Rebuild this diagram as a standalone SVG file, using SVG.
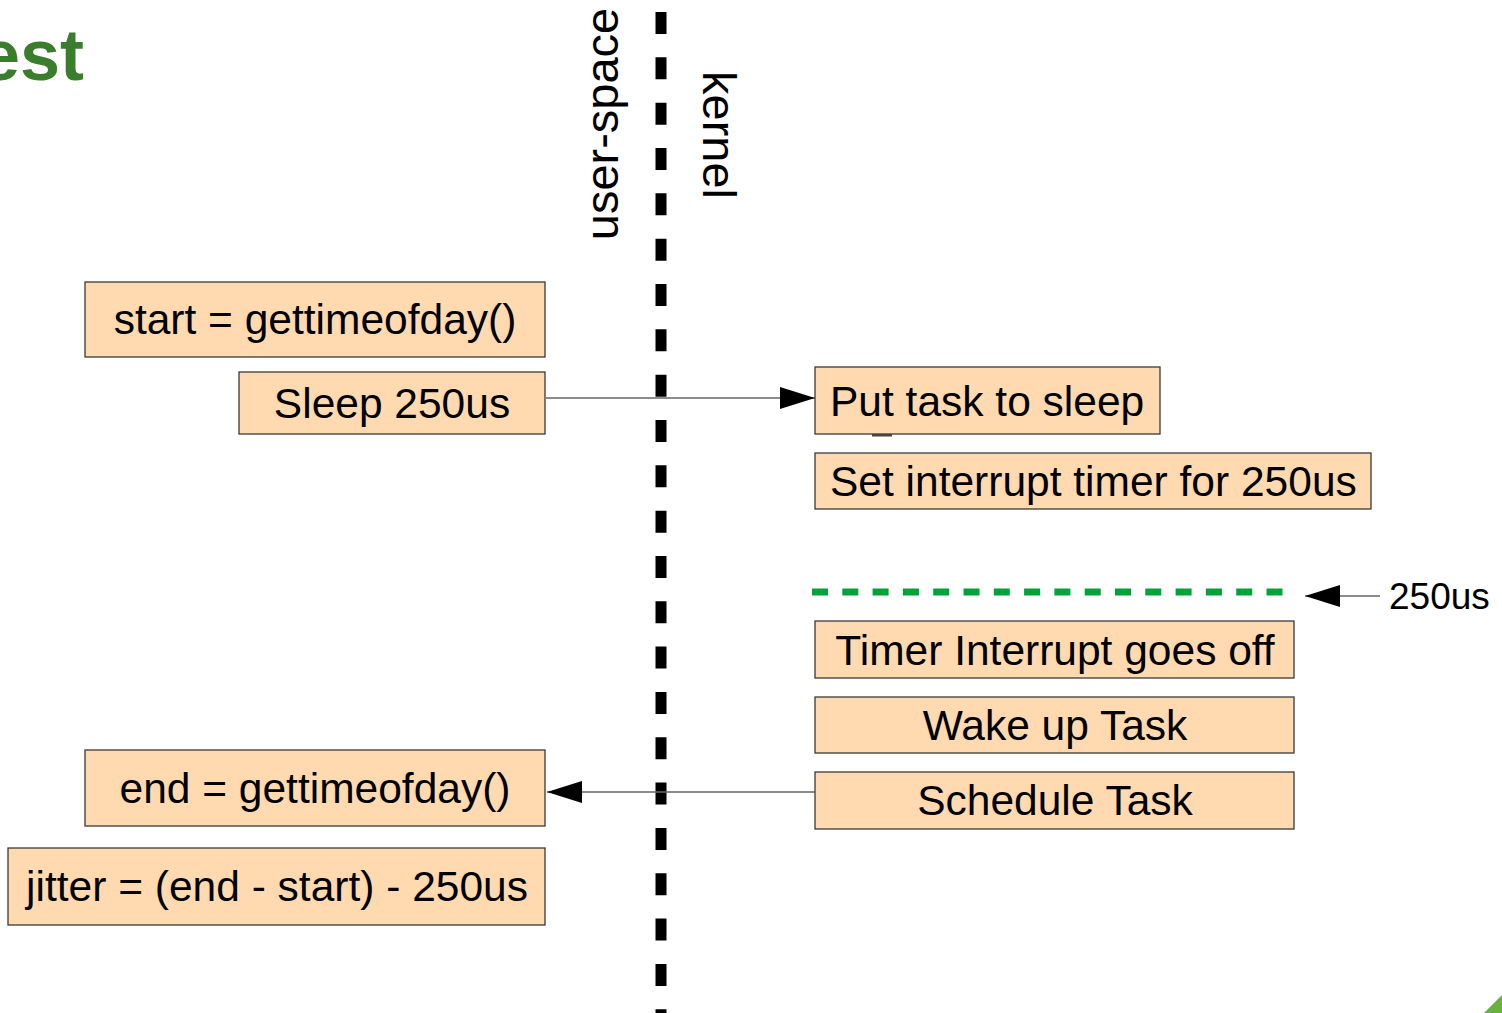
<svg xmlns="http://www.w3.org/2000/svg" width="1502" height="1013" viewBox="0 0 1502 1013">
<style>
.box{fill:#ffdab0;stroke:#3a3a3a;stroke-width:1.3}
.t{font-family:"Liberation Sans",Arial,sans-serif;font-size:42.5px;fill:#000}
.c{text-anchor:middle}
.conn{stroke:#666;stroke-width:1.6;fill:none}
</style>
<defs>
<marker id="ah" markerUnits="userSpaceOnUse" markerWidth="36" markerHeight="24" refX="35" refY="12" orient="auto">
<path d="M0,1 L35,12 L0,23 Z" fill="#000"/>
</marker>
</defs>
<rect width="1502" height="1013" fill="#fff"/>
<text x="-20" y="80" font-family="Liberation Sans,Arial,sans-serif" font-weight="bold" font-size="72" fill="#3a7d2c">est</text>
<path d="M1484,1013 L1502,995 L1502,1013 Z" fill="#6ab23e"/>
<line x1="661" y1="12" x2="661" y2="1013" stroke="#000" stroke-width="11" stroke-dasharray="22 23.33"/>
<text class="t c" style="font-size:47px" transform="translate(618,124) rotate(-90)">user-space</text>
<text class="t c" style="font-size:47px" transform="translate(703,135) rotate(90)">kernel</text>
<line x1="812" y1="592" x2="1290" y2="592" stroke="#00a33a" stroke-width="7" stroke-dasharray="16 14.3"/>
<g id="connectors">
<line class="conn" x1="546" y1="398" x2="815" y2="398" marker-end="url(#ah)"/>
<line class="conn" x1="815" y1="792" x2="547" y2="792" marker-end="url(#ah)"/>
<line class="conn" x1="1380" y1="596" x2="1305" y2="596" marker-end="url(#ah)"/>
</g>
<text class="t" style="font-size:37px" x="1389" y="609">250us</text>
<g id="n-start"><rect class="box" x="85" y="282" width="460" height="75"/><text class="t c" x="315" y="334">start = gettimeofday()</text></g>
<g id="n-sleep"><rect class="box" x="239" y="372" width="306" height="62"/><text class="t c" x="392" y="418">Sleep 250us</text></g>
<g id="n-put"><rect class="box" x="815" y="367" width="345" height="67"/><text class="t" x="830" y="416">Put task to sleep</text><rect x="872" y="434" width="20" height="2.5" fill="#444"/></g>
<g id="n-set"><rect class="box" x="815" y="453" width="556" height="56"/><text class="t" x="830" y="496">Set interrupt timer for 250us</text></g>
<g id="n-timer"><rect class="box" x="815" y="621" width="479" height="57"/><text class="t c" x="1055" y="665">Timer Interrupt goes off</text></g>
<g id="n-wake"><rect class="box" x="815" y="697" width="479" height="56"/><text class="t c" x="1055" y="740">Wake up Task</text></g>
<g id="n-sched"><rect class="box" x="815" y="772" width="479" height="57"/><text class="t c" x="1055" y="815">Schedule Task</text></g>
<g id="n-end"><rect class="box" x="85" y="750" width="460" height="76"/><text class="t c" x="315" y="803">end = gettimeofday()</text></g>
<g id="n-jitter"><rect class="box" x="8" y="848" width="537" height="77"/><text class="t c" x="277" y="901">jitter = (end - start) - 250us</text></g>
</svg>
